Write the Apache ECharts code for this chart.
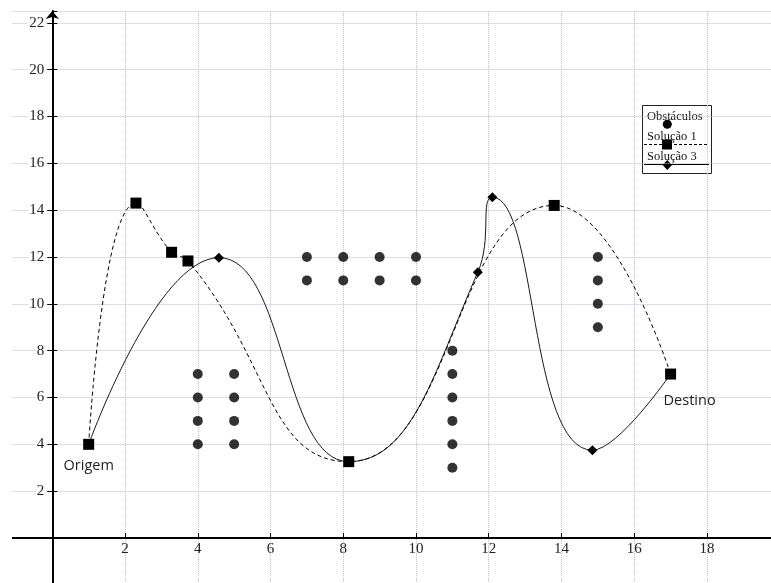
<!DOCTYPE html>
<html>
<head>
<meta charset="utf-8">
<title>Obstáculos e soluções</title>
<script src="https://cdn.jsdelivr.net/npm/echarts@6/dist/echarts.min.js"></script>
<style>
  html, body { margin: 0; padding: 0; background: #fff; }
  #chart { width: 771px; height: 583px; }
</style>
</head>
<body>
<div id="chart"></div>
<script>
// Tick labels shown on each axis
const xTickLabels = ['2', '4', '6', '8', '10', '12', '14', '16', '18'];
const yTickLabels = ['2', '4', '6', '8', '10', '12', '14', '16', '18', '20', '22'];

// Obstacle positions [x, y]
const obstacles = [
  [4, 4], [4, 5], [4, 6], [4, 7],
  [5, 4], [5, 5], [5, 6], [5, 7],
  [7, 11], [7, 12], [8, 11], [8, 12], [9, 11], [9, 12], [10, 11], [10, 12],
  [11, 3], [11, 4], [11, 5], [11, 6], [11, 7], [11, 8],
  [15, 9], [15, 10], [15, 11], [15, 12]
];

// Path of solution 1 (dashed)
const solucao1 = [[1, 4], [2.3, 14.3], [3.28, 12.2], [3.73, 11.83], [8.15, 3.26], [13.8, 14.2], [17, 7]];

// Path of solution 3 (solid)
const solucao3 = [[1, 4], [4.58, 11.97], [8.15, 3.26], [11.7, 11.35], [12.1, 14.55], [14.85, 3.75], [17, 7]];

// Names of the start and end points
const pointNames = ['Origem', 'Destino'];

const legendNames = ['Obstáculos', 'Solução 1', 'Solução 3'];

// Page geometry: where the origin sits and how many pixels per unit
const W = 771, H = 583;
const originX = 52.3, originY = 538;
const pxX = 36.37, pxY = 23.42;
const xMax = (W - originX) / pxX;
const yMax = 22.5;
const topPx = originY - yMax * pxY;

const serif = 'Liberation Serif, Times New Roman, serif';
const sans = 'Open Sans, Noto Sans, sans-serif';
const gridColor = '#bcbcd2';

const sameAs = (a, b) => a[0] === b[0] && a[1] === b[1];
const sharedWith1 = p => solucao1.some(q => sameAs(p, q));

const sol1Data = solucao1.map((p, i) => {
  const item = { value: p };
  if (i === 0) {
    item.label = { show: true, formatter: pointNames[0], position: 'bottom', distance: 9 };
  } else if (i === solucao1.length - 1) {
    item.label = { show: true, formatter: pointNames[1], position: 'bottom', distance: 14, offset: [19, 0] };
  }
  return item;
});

const sol3Data = solucao3.map(p => ({ value: p, symbol: sharedWith1(p) ? 'none' : 'diamond' }));

const chart = echarts.init(document.getElementById('chart'), null, { renderer: 'canvas' });

chart.setOption({
  animation: false,
  backgroundColor: '#fff',
  grid: [
    // full page: dotted grid and the two axis lines through the origin
    {
      left: originX - 2 * pxX, right: 0, top: topPx, bottom: H - (originY + 2 * pxY),
      containLabel: false, outerBoundsMode: 'none'
    },
    // first quadrant: ticks, tick labels and the data
    {
      left: originX, right: 0, top: topPx, bottom: H - originY,
      containLabel: false, outerBoundsMode: 'none'
    }
  ],
  xAxis: [{
    gridIndex: 0, type: 'value',
    min: -2, max: xMax, interval: 2,
    axisLine: { show: true, onZero: true, lineStyle: { color: '#000', width: 2 } },
    axisTick: { show: false },
    axisLabel: { show: false },
    splitLine: { show: true, lineStyle: { color: gridColor, type: [1, 1], width: 1 } }
  }, {
    gridIndex: 1, type: 'value',
    min: 0, max: xMax, interval: 2,
    axisLine: { show: false, onZero: false },
    axisTick: { show: true, inside: true, length: 5, lineStyle: { color: '#000', width: 1 } },
    axisLabel: {
      margin: 4, color: '#222', fontFamily: serif, fontSize: 15,
      showMinLabel: false, showMaxLabel: false,
      formatter: v => (xTickLabels.includes(String(v)) ? String(v) : '')
    },
    splitLine: { show: false }
  }],
  yAxis: [{
    gridIndex: 0, type: 'value',
    min: -2, max: yMax, interval: 2,
    axisLine: {
      show: true, onZero: true,
      symbol: ['none', 'arrow'], symbolSize: [10, 8],
      lineStyle: { color: '#000', width: 2 }
    },
    axisTick: { show: true, inside: true, length: 5, lineStyle: { color: '#000', width: 1 } },
    axisLabel: { show: false },
    splitLine: { show: true, lineStyle: { color: gridColor, type: [1, 1], width: 1 } }
  }, {
    gridIndex: 1, type: 'value',
    min: 0, max: yMax, interval: 2,
    axisLine: { show: false, onZero: false },
    axisTick: { show: true, inside: false, length: 5, lineStyle: { color: '#000', width: 1 } },
    axisLabel: {
      margin: 7, color: '#222', fontFamily: serif, fontSize: 15,
      backgroundColor: '#fff', padding: [0, 1],
      showMinLabel: false, showMaxLabel: false,
      formatter: v => (yTickLabels.includes(String(v)) ? String(v) : '')
    },
    splitLine: { show: false }
  }],
  series: [
    {
      name: legendNames[0],
      type: 'scatter',
      xAxisIndex: 1, yAxisIndex: 1,
      data: obstacles,
      symbol: 'circle',
      symbolSize: 10,
      itemStyle: { color: '#000' },
      z: 3
    },
    {
      name: legendNames[2],
      type: 'line',
      xAxisIndex: 1, yAxisIndex: 1,
      data: sol3Data,
      smooth: true,
      symbolSize: 10,
      showAllSymbol: true,
      clip: false,
      lineStyle: { color: '#1a1a1a', width: 1 },
      itemStyle: { color: '#000' },
      z: 4
    },
    {
      name: legendNames[1],
      type: 'line',
      xAxisIndex: 1, yAxisIndex: 1,
      data: sol1Data,
      smooth: true,
      symbol: 'rect',
      symbolSize: 11,
      showAllSymbol: true,
      clip: false,
      lineStyle: { color: '#000', width: 1, type: [4, 3] },
      itemStyle: { color: '#000' },
      label: { color: '#222', fontFamily: sans, fontSize: 14.5 },
      z: 5
    }
  ],
  graphic: [
    // blank margin to the left of the drawing area
    { type: 'rect', shape: { x: 0, y: 0, width: 12, height: H }, style: { fill: '#fff' }, z: 100 },
    // legend box
    {
      type: 'group', z: 100,
      children: [
        { type: 'rect', shape: { x: 642.5, y: 105.5, width: 69, height: 68 }, style: { fill: '#fff', stroke: '#222', lineWidth: 1 } },
        { type: 'text', style: { x: 647, y: 110, text: legendNames[0], font: '12.5px ' + serif, fill: '#111', verticalAlign: 'top' } },
        { type: 'circle', shape: { cx: 667.3, cy: 124.3, r: 4.5 }, style: { fill: '#000' } },
        { type: 'text', style: { x: 647, y: 130, text: legendNames[1], font: '12.5px ' + serif, fill: '#111', verticalAlign: 'top' } },
        { type: 'line', shape: { x1: 644, y1: 144.5, x2: 708, y2: 144.5 }, style: { stroke: '#000', lineWidth: 1, lineDash: [3, 2] } },
        { type: 'rect', shape: { x: 662, y: 139.5, width: 10, height: 10 }, style: { fill: '#000' } },
        { type: 'text', style: { x: 647, y: 150, text: legendNames[2], font: '12.5px ' + serif, fill: '#111', verticalAlign: 'top' } },
        { type: 'line', shape: { x1: 644, y1: 164.5, x2: 709, y2: 164.5 }, style: { stroke: '#000', lineWidth: 1 } },
        { type: 'polygon', shape: { points: [[667.3, 160], [672, 165], [667.3, 170], [662.6, 165]] }, style: { fill: '#000' } }
      ]
    }
  ]
});
</script>
</body>
</html>
